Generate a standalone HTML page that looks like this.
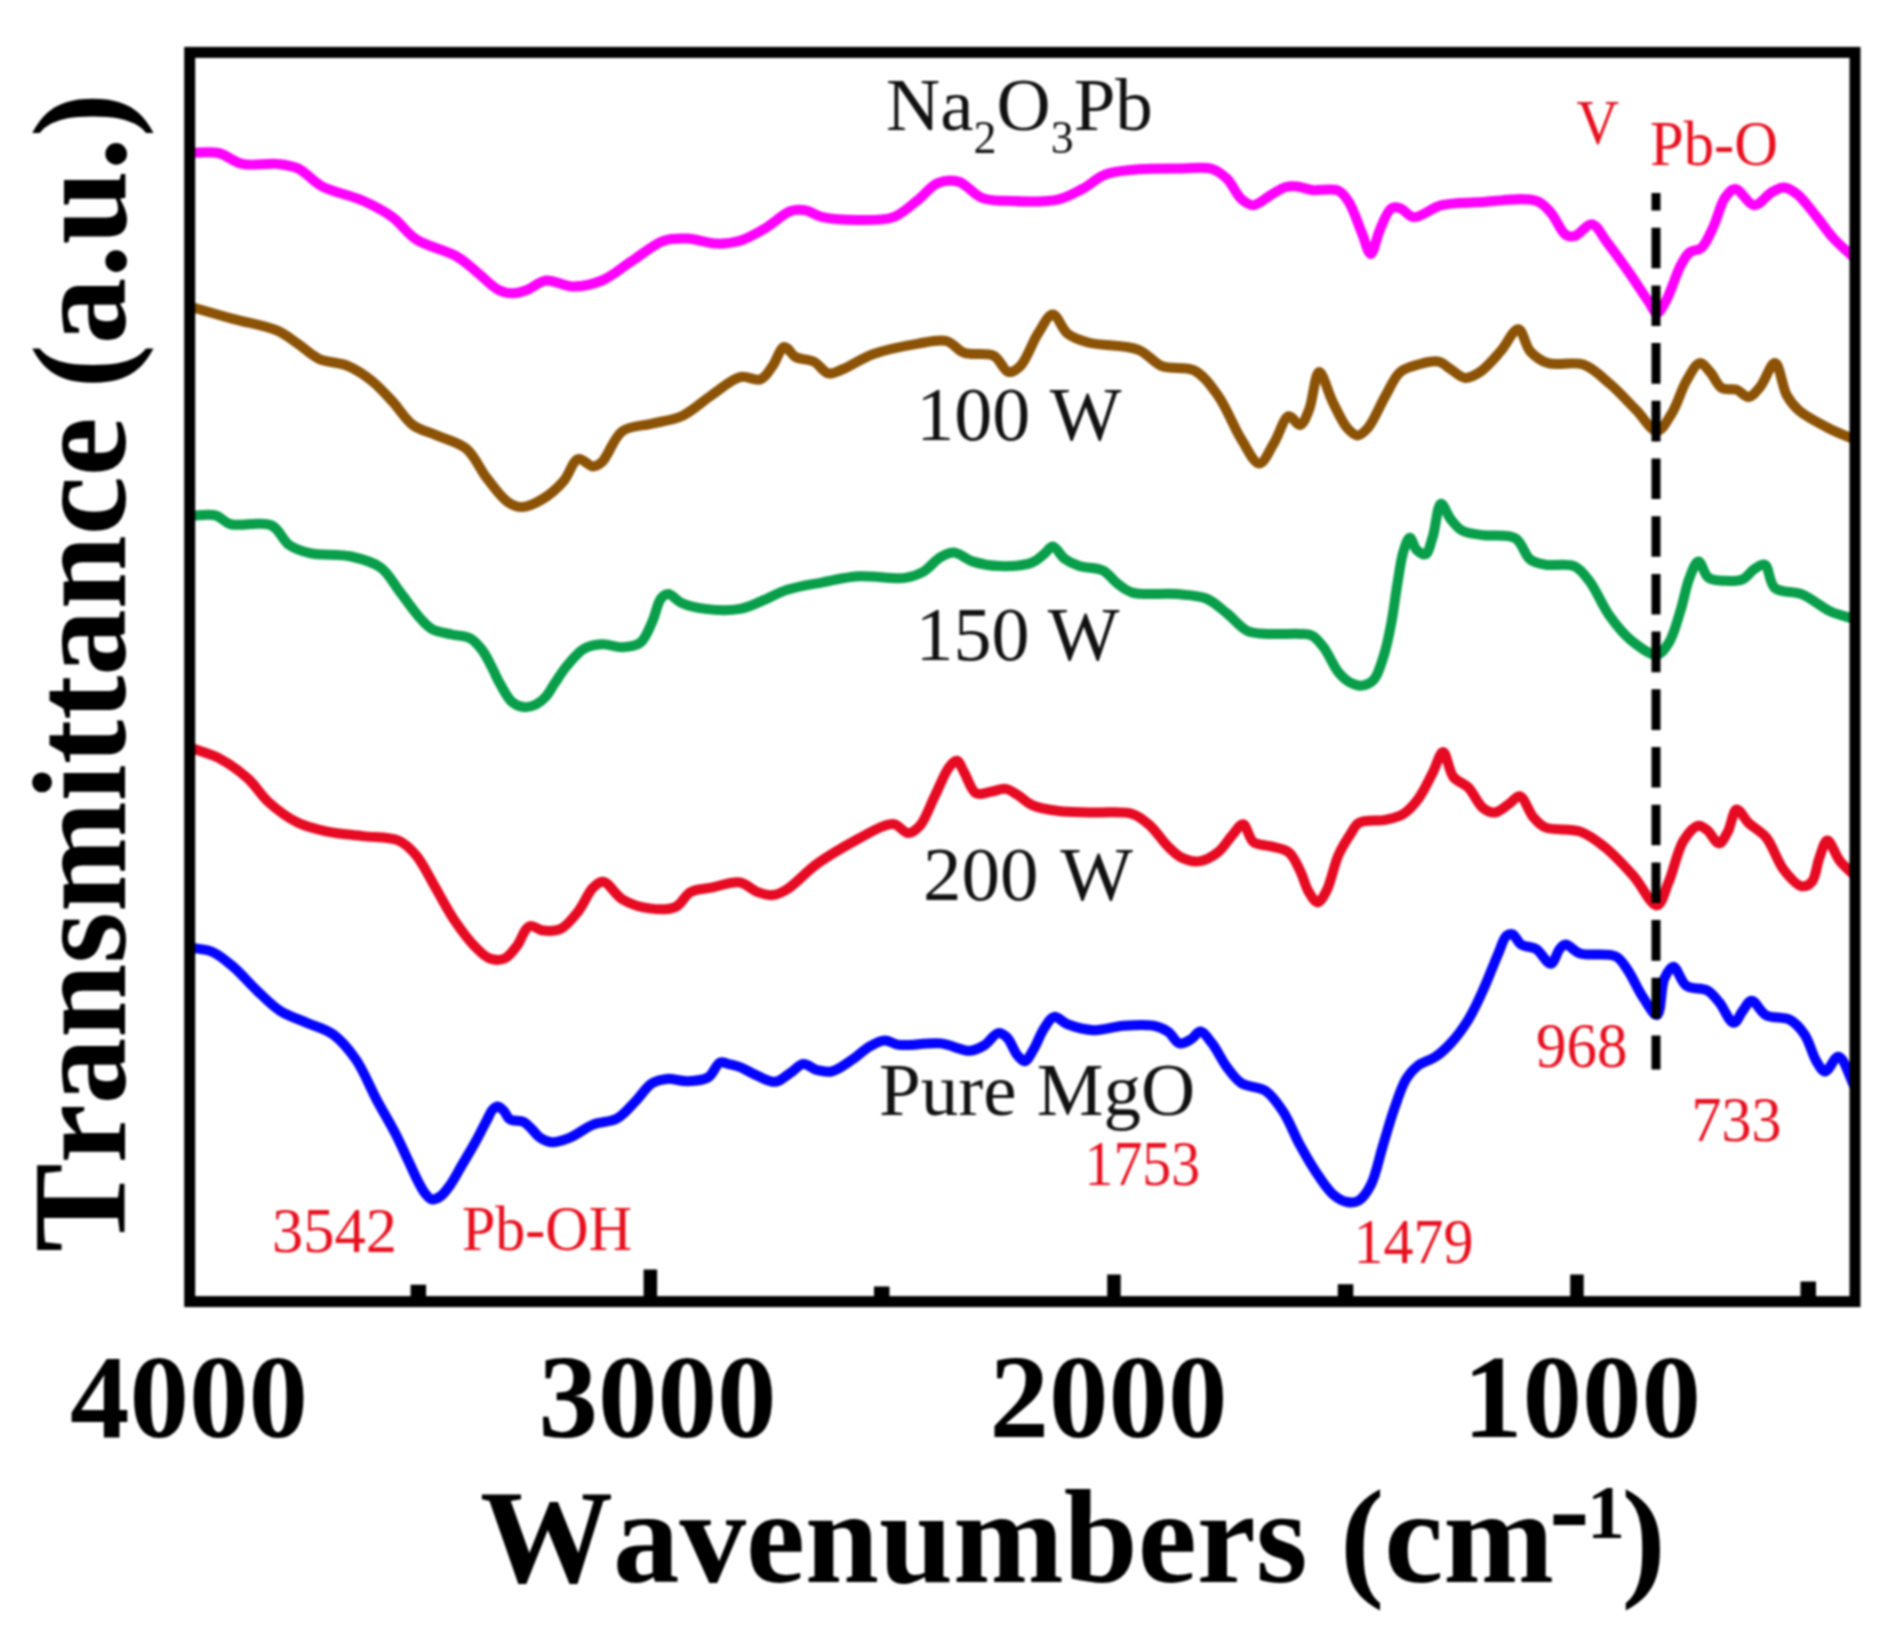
<!DOCTYPE html>
<html lang="en"><head><meta charset="utf-8"><title>FTIR spectra</title>
<style>
html,body{margin:0;padding:0;background:#fff;}
body{width:1899px;height:1637px;overflow:hidden;}
svg{display:block;filter:blur(0.9px);}
text{font-family:"Liberation Serif","Times New Roman",Times,serif;}
.ax{font-weight:bold;fill:#000;}
.lbl{fill:#111;}
.red{fill:#e8101f;}
</style></head><body>
<svg width="1899" height="1637" viewBox="0 0 1899 1637">
<rect x="0" y="0" width="1899" height="1637" fill="#ffffff"/>
<g id="curves">
<path d="M189.7 153.0C199.3 153.0 209.5 151.0 218.4 153.0C226.9 154.9 233.1 161.9 242.0 163.9C252.4 166.2 267.2 162.8 277.4 163.9C285.2 164.7 291.2 165.3 298.0 168.4C306.0 172.1 312.2 181.0 321.6 186.1C333.1 192.3 350.6 195.2 363.0 200.8C373.9 205.7 383.6 210.6 392.5 217.1C401.2 223.5 406.4 232.9 416.0 239.2C427.3 246.6 446.3 250.3 457.4 256.9C465.9 261.9 471.2 267.6 478.0 273.1C484.9 278.6 492.1 286.8 498.7 290.0C503.5 292.4 507.8 293.3 512.5 293.3C517.3 293.3 522.0 291.8 527.0 290.0C533.0 287.8 538.9 281.4 545.9 280.5C553.8 279.5 563.3 286.3 572.4 286.4C582.0 286.5 592.5 284.4 602.0 280.5C612.3 276.3 621.4 267.8 631.5 261.3C642.0 254.5 653.5 244.2 663.9 240.7C672.0 237.9 679.2 238.3 687.5 238.6C696.8 239.0 707.8 243.4 717.0 243.6C725.1 243.8 732.3 243.0 740.0 240.7C748.8 238.0 758.2 232.4 766.6 227.4C774.9 222.5 782.9 213.7 790.2 211.2C795.4 209.4 799.9 209.5 804.9 210.3C810.6 211.2 815.6 215.5 822.6 217.1C832.2 219.3 846.2 220.0 858.0 220.0C869.8 220.0 883.2 220.7 893.4 217.1C902.6 213.8 909.5 206.5 917.0 200.8C924.3 195.2 930.3 186.2 937.7 183.1C944.2 180.4 951.6 179.7 958.4 181.6C966.4 183.8 973.7 194.8 982.0 197.9C989.5 200.8 996.1 200.4 1005.6 200.8C1019.7 201.5 1044.8 202.4 1058.7 199.3C1068.4 197.1 1074.6 193.1 1082.3 189.0C1090.3 184.8 1097.0 177.6 1105.9 174.3C1115.5 170.7 1126.7 170.3 1138.4 169.3C1152.0 168.1 1169.4 168.4 1182.6 168.4C1193.4 168.4 1204.2 166.6 1212.1 169.0C1218.2 170.9 1222.3 174.3 1226.9 178.7C1232.3 183.9 1236.4 194.8 1241.6 199.3C1245.4 202.5 1249.1 205.3 1253.4 205.2C1258.7 205.0 1265.4 198.1 1271.1 194.9C1276.2 192.0 1281.2 188.3 1285.9 187.0C1289.7 185.9 1293.0 186.1 1297.0 186.5C1301.7 186.9 1306.3 189.3 1312.0 190.0C1319.4 190.9 1331.7 187.7 1338.0 190.5C1342.9 192.6 1345.2 196.5 1348.5 201.5C1353.5 209.1 1358.0 223.8 1362.0 233.3C1365.2 240.9 1367.9 254.0 1370.8 253.9C1373.8 253.8 1376.2 237.9 1379.7 230.3C1383.1 222.7 1386.9 210.9 1391.5 208.2C1394.2 206.6 1397.2 207.3 1400.3 208.2C1404.5 209.5 1408.2 216.6 1413.6 217.1C1421.1 217.8 1431.5 207.7 1441.6 205.2C1452.5 202.5 1463.7 203.0 1477.0 202.3C1494.2 201.4 1523.3 196.5 1536.0 200.8C1543.2 203.2 1546.2 207.6 1550.8 212.6C1556.2 218.5 1560.6 231.6 1565.6 234.8C1568.5 236.7 1571.1 236.9 1574.4 236.2C1579.5 235.1 1586.8 223.6 1592.1 224.4C1597.7 225.2 1601.5 235.2 1606.9 242.1C1614.0 251.2 1623.3 264.3 1630.5 274.6C1636.9 283.8 1643.2 294.1 1648.2 301.1C1651.6 305.9 1654.1 312.9 1657.0 312.9C1660.0 312.9 1662.9 306.3 1665.9 301.1C1670.7 292.7 1675.9 274.5 1680.6 265.7C1683.6 260.0 1685.8 255.5 1689.5 252.5C1692.8 249.9 1697.8 251.0 1701.3 248.0C1706.1 243.9 1709.4 235.0 1713.1 227.4C1717.4 218.6 1720.2 204.5 1724.9 197.9C1728.0 193.6 1731.2 189.0 1735.2 189.0C1740.6 189.0 1748.1 205.0 1754.4 205.2C1760.3 205.4 1766.6 195.0 1772.1 192.0C1776.3 189.7 1779.9 187.3 1783.9 187.5C1788.2 187.7 1792.6 190.6 1797.0 194.0C1803.3 198.9 1810.2 208.9 1816.4 216.5C1822.5 223.9 1827.7 232.0 1834.1 239.0C1840.5 246.0 1848.0 252.0 1855.0 258.5" fill="none" stroke="#ff00ff" stroke-width="10" stroke-linejoin="round" stroke-linecap="butt"/>
<path d="M189.7 306.5C204.1 310.6 218.5 314.9 233.0 318.9C247.7 323.0 265.7 325.6 277.4 330.7C285.9 334.5 291.2 339.3 298.0 343.9C305.0 348.6 310.8 355.0 318.7 358.7C327.3 362.7 339.2 362.3 348.2 366.1C356.8 369.8 364.5 375.0 371.8 380.8C379.3 386.8 385.7 394.2 392.5 401.5C399.5 409.0 405.2 419.4 413.0 425.1C420.1 430.3 428.4 431.7 436.7 435.4C446.0 439.5 458.0 441.9 466.2 448.7C474.9 455.9 479.8 469.1 486.9 478.2C493.6 486.7 500.6 497.1 507.5 501.8C512.4 505.1 517.0 507.2 522.3 507.1C528.6 507.0 536.3 502.9 542.9 498.9C550.2 494.5 557.7 487.8 563.6 481.1C569.4 474.5 572.6 460.5 578.3 459.0C582.8 457.8 588.8 466.4 593.1 466.4C596.4 466.4 598.8 464.8 602.0 462.0C608.1 456.6 613.6 437.3 622.6 431.0C630.7 425.3 642.3 426.1 652.1 423.6C661.9 421.1 672.1 420.5 681.6 416.2C691.9 411.5 701.3 402.2 711.1 395.6C720.7 389.2 730.8 379.3 740.0 377.1C747.2 375.4 755.2 381.4 760.7 379.3C765.8 377.3 768.8 371.1 772.5 366.1C776.7 360.5 780.0 347.6 784.3 346.9C787.9 346.4 791.3 354.8 796.0 357.2C801.0 359.8 808.4 358.9 813.8 361.6C819.3 364.3 823.3 372.4 828.5 373.4C833.2 374.3 837.6 371.2 843.3 369.0C851.6 365.7 861.7 358.3 872.8 354.3C885.8 349.6 903.7 346.1 917.0 343.9C927.8 342.1 938.2 338.9 946.5 341.0C953.5 342.8 957.2 350.3 964.2 352.8C972.5 355.8 986.1 351.9 993.7 355.7C1000.3 359.0 1003.5 371.1 1008.5 372.0C1012.4 372.7 1016.5 369.7 1020.3 366.1C1026.6 360.0 1032.0 342.8 1038.0 333.6C1042.9 326.1 1047.9 314.4 1052.8 314.4C1057.7 314.4 1061.5 328.9 1067.5 333.6C1073.3 338.1 1079.6 340.1 1088.2 342.5C1101.1 346.1 1125.2 344.6 1138.4 349.8C1148.3 353.7 1153.0 362.6 1162.0 366.1C1171.6 369.8 1185.1 365.7 1194.4 370.5C1203.9 375.4 1210.7 385.5 1218.0 395.6C1226.8 407.8 1233.8 427.6 1241.6 439.8C1247.6 449.2 1253.7 463.5 1259.3 463.4C1264.5 463.3 1269.4 450.3 1274.1 442.8C1279.3 434.6 1283.6 417.3 1288.8 416.2C1292.4 415.5 1296.8 425.6 1300.0 425.0C1303.6 424.4 1306.2 416.6 1308.9 410.3C1313.0 400.7 1315.0 372.3 1319.2 372.0C1323.0 371.7 1327.7 392.0 1332.5 401.5C1337.1 410.7 1342.1 422.2 1347.2 428.0C1350.5 431.7 1354.1 435.4 1357.5 435.4C1361.0 435.4 1364.4 431.9 1367.9 428.0C1373.8 421.4 1379.8 405.5 1385.6 395.6C1390.6 387.0 1394.2 377.2 1400.3 372.0C1405.4 367.7 1411.8 366.3 1418.0 364.6C1424.5 362.8 1432.9 360.4 1438.7 361.6C1443.4 362.6 1446.3 366.4 1450.5 369.0C1455.1 371.8 1460.2 377.5 1465.2 377.9C1470.0 378.3 1475.0 375.3 1480.0 372.0C1486.8 367.5 1494.2 358.5 1500.6 351.3C1506.9 344.2 1513.4 328.7 1518.4 329.2C1523.1 329.6 1525.0 345.5 1530.2 351.3C1535.0 356.6 1540.6 360.7 1547.9 363.1C1557.3 366.2 1572.8 361.0 1583.3 364.6C1593.4 368.1 1601.2 376.5 1609.8 383.8C1619.0 391.6 1628.1 402.0 1636.4 410.3C1643.7 417.6 1650.8 431.3 1657.0 431.0C1662.5 430.8 1667.3 420.5 1671.8 413.3C1677.4 404.4 1681.2 389.8 1686.5 380.8C1690.7 373.7 1695.4 363.6 1699.8 363.1C1703.3 362.7 1706.7 368.4 1710.1 372.0C1714.2 376.4 1717.1 385.4 1722.0 388.2C1726.2 390.6 1732.2 388.2 1736.7 389.7C1741.0 391.2 1744.7 397.3 1748.5 397.0C1752.6 396.7 1756.5 391.2 1760.3 386.7C1765.4 380.7 1770.7 362.7 1775.0 363.1C1779.8 363.6 1782.1 387.2 1786.9 395.6C1790.4 401.8 1793.3 405.6 1798.7 410.3C1805.9 416.6 1818.4 423.0 1828.2 428.0C1837.2 432.7 1846.1 435.9 1855.0 439.8" fill="none" stroke="#8c5306" stroke-width="10" stroke-linejoin="round" stroke-linecap="butt"/>
<path d="M189.7 515.9C198.3 515.7 208.2 513.4 215.4 515.3C221.3 516.8 223.7 522.2 230.2 524.1C240.2 527.0 261.3 520.7 271.5 525.4C279.7 529.2 282.5 540.3 289.2 545.0C295.4 549.3 301.6 551.2 309.8 553.1C321.0 555.7 338.7 553.7 351.1 556.5C361.9 558.9 372.4 561.6 380.6 567.5C388.8 573.4 393.6 583.8 400.1 592.1C406.8 600.6 414.0 611.5 420.1 618.1C424.4 622.8 427.2 626.4 432.1 629.1C437.6 632.1 445.5 632.9 452.0 634.5C458.2 636.0 465.1 635.6 470.2 638.3C475.1 640.9 478.7 645.5 482.2 650.1C486.0 655.1 489.0 661.7 492.0 667.5C494.9 673.1 497.0 678.6 500.2 684.1C503.7 690.1 507.5 698.3 512.2 702.1C515.8 705.1 520.2 706.7 524.2 707.1C528.1 707.4 532.4 706.2 536.0 704.5C539.7 702.7 543.1 699.7 546.0 696.5C549.2 693.0 551.2 688.6 554.2 684.1C557.9 678.7 561.7 672.1 566.5 666.4C571.7 660.3 577.8 652.3 584.3 648.7C589.8 645.6 595.8 644.6 602.0 644.3C608.6 644.0 616.0 647.5 622.6 647.2C628.8 646.9 635.5 646.4 640.3 642.8C645.7 638.7 648.7 629.4 652.1 622.1C655.6 614.6 657.3 603.0 661.0 598.5C663.2 595.9 665.5 594.0 668.3 594.1C672.1 594.2 676.3 600.6 681.6 603.0C688.1 605.9 696.5 607.8 705.2 608.9C715.6 610.2 730.0 610.6 740.0 608.9C747.9 607.5 753.4 604.4 760.7 601.5C769.0 598.2 777.5 592.8 787.2 589.7C798.0 586.2 810.8 584.5 822.6 582.3C834.4 580.1 845.3 577.2 858.0 576.3C872.6 575.3 893.4 579.6 905.2 577.9C912.6 576.8 917.3 575.1 922.9 572.0C929.1 568.5 934.8 560.5 940.6 557.2C945.1 554.6 949.1 552.3 953.9 552.5C959.8 552.8 966.0 559.4 973.1 561.6C981.1 564.1 990.4 565.8 999.7 566.1C1009.9 566.4 1024.2 565.5 1032.1 562.5C1037.3 560.5 1040.3 557.1 1043.9 554.3C1047.2 551.8 1049.7 546.4 1052.8 546.5C1056.5 546.7 1060.1 555.4 1064.6 558.7C1069.0 561.9 1073.7 564.2 1079.3 566.1C1086.1 568.4 1096.3 567.3 1102.9 570.5C1108.9 573.5 1112.6 580.0 1117.7 583.8C1122.4 587.3 1125.9 590.7 1132.4 592.6C1142.9 595.7 1163.5 592.9 1176.7 594.1C1187.6 595.1 1197.6 595.0 1206.2 598.5C1214.1 601.7 1220.1 608.0 1226.9 613.3C1233.9 618.8 1240.1 627.7 1247.5 631.0C1254.0 633.9 1260.5 633.4 1268.2 633.9C1277.6 634.6 1292.0 633.4 1300.0 633.9C1304.9 634.2 1308.1 633.6 1311.8 635.4C1316.1 637.5 1319.8 642.2 1323.6 647.2C1328.7 653.8 1333.2 666.1 1338.4 672.3C1342.2 676.9 1346.0 680.4 1350.2 682.6C1353.9 684.5 1358.1 686.0 1362.0 685.6C1366.0 685.2 1370.5 683.3 1373.8 679.7C1378.5 674.6 1381.2 663.6 1384.1 654.6C1387.3 644.6 1389.3 633.4 1391.5 622.1C1393.8 609.9 1395.3 596.0 1397.4 583.8C1399.3 572.7 1400.7 560.4 1403.3 552.0C1405.1 546.2 1407.5 537.8 1409.8 537.7C1412.0 537.6 1413.7 547.0 1416.6 549.8C1419.1 552.2 1423.0 555.2 1425.4 554.3C1428.8 553.1 1430.5 543.5 1432.8 536.6C1435.8 527.4 1437.3 504.3 1441.0 503.7C1443.7 503.3 1446.9 514.3 1450.5 518.9C1454.0 523.3 1457.3 528.0 1462.3 530.7C1467.9 533.7 1475.3 533.9 1483.0 535.1C1492.6 536.6 1507.4 533.6 1515.4 538.3C1522.5 542.5 1524.5 555.2 1530.2 559.5C1534.6 562.9 1539.1 563.4 1544.9 564.6C1552.9 566.2 1566.7 562.9 1574.4 566.3C1580.8 569.1 1584.3 574.5 1589.2 580.8C1596.1 589.7 1602.4 605.9 1609.8 616.2C1616.3 625.2 1622.5 633.4 1630.5 639.8C1638.3 646.1 1650.2 655.5 1657.0 654.6C1662.0 653.9 1665.4 648.2 1668.8 642.8C1673.8 635.0 1677.1 621.2 1680.6 610.3C1684.0 599.6 1685.9 586.7 1689.5 577.9C1692.1 571.4 1695.2 561.7 1698.4 561.6C1701.6 561.5 1704.0 574.7 1708.7 577.9C1713.0 580.8 1719.4 580.5 1724.9 580.8C1730.7 581.1 1737.6 581.4 1742.6 579.3C1747.3 577.3 1750.4 571.5 1754.4 569.0C1757.8 566.9 1761.7 563.4 1764.7 564.6C1769.2 566.4 1769.0 583.3 1775.0 588.2C1781.2 593.3 1792.8 590.6 1801.6 594.1C1811.5 598.0 1821.5 607.5 1831.1 611.8C1839.3 615.4 1847.0 616.7 1855.0 619.2" fill="none" stroke="#089e4a" stroke-width="10" stroke-linejoin="round" stroke-linecap="butt"/>
<path d="M189.7 747.5C199.3 751.0 209.1 753.1 218.4 757.9C228.5 763.2 239.3 770.8 247.9 778.5C255.9 785.7 260.5 794.9 268.5 802.1C277.1 809.8 287.7 817.8 298.0 822.8C307.5 827.4 317.1 829.4 327.5 831.6C338.7 834.0 351.1 834.6 362.9 836.1C374.7 837.6 389.1 836.5 398.4 840.5C405.9 843.7 410.7 848.9 416.1 855.2C422.7 862.9 427.7 874.4 433.8 884.7C440.4 896.0 447.1 909.5 454.4 920.2C461.0 929.9 468.4 939.9 475.1 946.7C480.1 951.8 484.5 956.7 489.8 958.5C494.5 960.1 500.3 960.3 504.6 958.5C509.2 956.6 512.6 951.4 516.4 946.7C521.0 941.0 524.5 927.9 529.7 926.1C533.6 924.7 538.1 929.9 542.9 930.5C548.3 931.1 555.1 931.5 560.6 929.0C567.1 926.0 573.0 918.0 578.3 911.3C583.9 904.3 588.0 892.6 593.1 887.7C596.4 884.5 599.6 881.4 603.4 881.8C609.0 882.4 615.1 895.1 622.6 899.5C630.3 904.1 640.2 907.2 649.2 908.4C657.9 909.6 668.6 910.1 675.7 906.9C682.0 904.1 684.6 895.3 690.5 892.1C696.4 888.9 703.6 889.2 711.1 887.7C719.9 886.0 731.7 881.2 740.0 882.5C746.8 883.6 751.9 890.0 757.7 892.1C762.7 893.9 767.6 895.5 772.5 895.1C777.5 894.6 781.8 892.5 787.2 889.2C795.7 884.1 805.7 872.1 816.7 864.1C829.0 855.2 845.6 845.8 858.0 839.0C867.7 833.6 877.7 827.8 884.6 825.7C888.7 824.4 891.4 823.5 894.9 824.3C899.2 825.3 903.9 833.0 908.2 833.1C912.2 833.1 916.4 829.7 920.0 825.7C925.6 819.5 929.8 806.0 934.7 796.2C939.6 786.4 944.8 772.5 949.5 766.7C952.0 763.6 954.6 760.4 956.9 760.8C959.7 761.3 961.6 768.1 964.3 772.6C967.8 778.5 970.9 790.6 976.1 793.3C980.2 795.4 985.9 792.5 990.8 791.8C995.7 791.1 1001.0 788.3 1005.6 788.9C1009.9 789.5 1013.3 792.4 1017.4 794.8C1022.1 797.6 1026.2 802.5 1032.1 805.1C1039.4 808.3 1049.1 809.7 1058.7 811.0C1069.6 812.4 1082.1 812.0 1094.1 812.5C1106.6 813.0 1122.4 810.7 1132.4 813.9C1139.9 816.3 1144.6 820.7 1150.2 825.7C1156.5 831.3 1162.0 840.7 1167.9 846.4C1172.8 851.2 1177.1 855.8 1182.6 858.2C1187.9 860.6 1194.5 862.0 1200.3 861.1C1206.4 860.2 1212.7 856.4 1218.0 852.3C1223.7 847.8 1228.2 839.6 1232.8 834.6C1236.4 830.6 1239.9 823.9 1243.1 824.3C1246.9 824.8 1248.5 838.3 1253.4 842.0C1258.0 845.5 1265.2 844.7 1271.1 846.4C1277.0 848.1 1284.1 848.5 1288.8 852.3C1293.9 856.3 1296.7 864.0 1300.0 870.5C1303.4 877.3 1305.4 886.4 1308.9 892.1C1311.5 896.4 1314.8 902.5 1317.7 902.4C1320.7 902.3 1323.8 895.9 1326.6 890.6C1331.0 882.2 1333.9 865.2 1338.4 855.2C1342.0 847.2 1346.4 840.4 1350.2 834.6C1353.2 830.0 1354.5 825.4 1359.0 822.8C1365.0 819.3 1377.7 821.5 1385.6 819.8C1392.2 818.3 1398.0 817.2 1403.3 813.9C1408.9 810.5 1413.5 805.2 1418.0 799.2C1423.5 791.9 1428.4 780.9 1432.8 772.6C1436.6 765.3 1439.8 751.9 1443.1 752.0C1446.7 752.1 1448.5 770.9 1453.4 777.0C1457.4 782.0 1463.6 782.9 1468.2 787.4C1473.6 792.8 1477.7 803.9 1483.0 808.0C1486.7 810.9 1490.7 812.8 1494.8 812.4C1499.5 812.0 1505.1 806.5 1509.5 803.6C1513.3 801.1 1516.5 795.6 1519.8 796.2C1524.4 797.1 1528.4 811.4 1533.1 816.9C1536.9 821.3 1539.4 824.7 1544.9 827.2C1553.2 830.9 1570.0 827.9 1580.3 831.6C1589.4 834.8 1596.0 840.1 1603.9 846.4C1613.6 854.1 1624.4 865.8 1633.4 875.9C1642.0 885.5 1650.9 906.1 1657.0 905.4C1662.1 904.9 1664.9 890.9 1668.8 881.8C1673.8 870.1 1677.4 850.3 1683.6 840.5C1687.9 833.7 1693.9 826.4 1698.4 825.7C1701.5 825.2 1704.3 827.9 1707.2 830.2C1711.1 833.2 1715.4 843.5 1719.0 843.4C1722.3 843.3 1725.2 836.4 1727.9 831.6C1731.3 825.6 1732.9 810.2 1736.7 809.5C1740.0 808.9 1744.0 818.4 1748.5 822.8C1753.6 827.8 1760.9 831.0 1766.2 837.5C1773.0 845.8 1777.2 861.5 1783.9 870.0C1789.3 876.9 1796.2 885.3 1801.6 886.2C1805.3 886.8 1809.2 884.8 1811.9 881.8C1815.9 877.3 1816.5 865.4 1819.3 858.2C1821.7 851.8 1824.1 840.7 1827.3 840.5C1830.9 840.3 1835.2 855.1 1840.0 861.1C1844.5 866.7 1850.0 871.0 1855.0 875.9" fill="none" stroke="#e60a23" stroke-width="10" stroke-linejoin="round" stroke-linecap="butt"/>
<path d="M189.7 947.5C197.3 949.0 205.4 948.9 212.5 952.0C219.9 955.2 226.2 960.9 233.1 966.7C241.0 973.4 248.7 982.8 256.7 990.3C264.4 997.6 271.7 1005.5 280.3 1011.0C288.5 1016.3 298.0 1018.9 306.9 1022.8C315.7 1026.7 325.5 1028.8 333.4 1034.6C341.9 1040.8 349.1 1049.7 355.9 1059.5C363.8 1070.9 369.9 1087.1 376.7 1099.8C382.9 1111.4 389.5 1122.2 395.0 1132.8C400.0 1142.5 404.3 1152.2 408.4 1160.9C411.9 1168.3 415.0 1175.8 418.2 1181.7C420.7 1186.4 422.9 1190.8 425.5 1193.9C427.5 1196.3 429.2 1198.8 431.6 1199.3C434.1 1199.8 437.5 1198.3 440.2 1196.5C443.7 1194.2 446.8 1189.8 450.0 1185.3C454.1 1179.6 458.1 1171.5 462.2 1164.6C466.3 1157.7 470.4 1151.0 474.4 1143.8C478.6 1136.3 483.2 1126.9 486.6 1120.6C489.0 1116.2 490.4 1112.0 492.7 1109.6C494.2 1108.0 495.9 1106.5 497.6 1106.5C499.5 1106.5 501.8 1108.9 503.7 1110.8C505.9 1113.0 506.9 1117.5 509.8 1119.4C513.1 1121.5 519.5 1120.0 523.3 1121.8C526.7 1123.4 529.1 1126.5 531.8 1129.1C534.6 1131.8 536.7 1135.5 540.0 1137.7C543.4 1140.0 547.4 1142.0 551.8 1142.3C557.1 1142.6 563.3 1140.3 569.5 1137.9C577.0 1134.9 585.0 1127.8 593.1 1124.6C600.8 1121.5 609.8 1122.4 616.7 1118.7C623.6 1115.0 628.6 1108.3 634.4 1102.5C640.4 1096.5 645.9 1087.2 652.1 1083.3C656.9 1080.3 661.5 1079.4 666.9 1078.9C673.1 1078.3 680.6 1081.4 687.5 1081.2C694.4 1081.0 702.7 1080.7 708.2 1077.4C713.4 1074.3 715.9 1064.2 720.0 1062.6C722.8 1061.5 725.7 1063.4 728.8 1064.1C732.3 1064.9 735.9 1065.6 740.0 1067.1C745.3 1069.1 751.7 1073.4 757.7 1075.9C763.5 1078.3 769.9 1082.4 775.4 1081.8C780.7 1081.2 785.4 1076.0 790.2 1073.0C794.8 1070.1 798.9 1064.5 803.4 1064.1C807.7 1063.7 812.0 1068.8 816.7 1070.0C821.4 1071.2 826.3 1072.6 831.5 1071.5C838.0 1070.1 845.6 1064.0 852.1 1059.7C858.4 1055.6 863.9 1049.7 869.8 1046.4C874.8 1043.6 879.6 1040.7 884.6 1040.5C889.5 1040.3 893.1 1044.1 899.3 1044.9C909.5 1046.2 928.1 1042.1 940.6 1043.4C951.4 1044.5 962.1 1051.4 970.2 1050.8C976.0 1050.4 980.3 1047.7 984.9 1044.9C989.7 1041.9 994.0 1033.6 998.2 1033.1C1001.3 1032.7 1004.3 1035.0 1007.0 1037.5C1010.9 1041.2 1013.8 1051.2 1017.4 1055.3C1019.8 1058.1 1022.3 1061.5 1024.7 1061.2C1027.7 1060.8 1030.7 1054.0 1033.6 1049.4C1037.2 1043.6 1040.0 1034.4 1043.9 1028.7C1047.1 1024.0 1050.3 1017.6 1054.3 1016.9C1058.2 1016.2 1062.2 1022.3 1067.5 1024.3C1074.7 1027.0 1085.0 1029.9 1094.1 1030.2C1103.7 1030.5 1113.7 1026.4 1123.6 1025.7C1133.4 1025.0 1145.1 1024.2 1153.1 1025.7C1159.0 1026.8 1163.5 1028.7 1167.9 1031.6C1172.4 1034.6 1175.4 1042.5 1179.7 1043.4C1183.4 1044.2 1188.0 1041.0 1191.5 1039.0C1194.8 1037.1 1197.2 1031.5 1200.3 1031.6C1204.0 1031.8 1208.2 1038.5 1212.1 1043.4C1217.1 1049.7 1221.6 1060.2 1226.9 1067.1C1231.5 1073.2 1235.5 1079.4 1241.6 1083.3C1248.1 1087.5 1258.4 1086.2 1265.2 1090.7C1272.3 1095.4 1277.5 1103.2 1282.9 1111.3C1289.3 1120.9 1294.3 1134.8 1300.0 1145.2C1305.0 1154.3 1309.4 1162.2 1314.8 1170.3C1320.2 1178.4 1326.3 1188.5 1332.5 1193.9C1337.2 1198.0 1342.4 1201.1 1347.2 1202.0C1351.2 1202.8 1355.4 1202.5 1359.0 1200.5C1363.5 1197.9 1367.4 1191.8 1370.8 1185.1C1375.8 1175.5 1378.7 1159.5 1382.6 1146.7C1386.5 1133.9 1390.2 1120.3 1394.4 1108.4C1398.1 1097.8 1401.5 1086.5 1406.2 1078.9C1409.7 1073.2 1413.3 1069.2 1418.0 1065.6C1423.0 1061.8 1430.3 1060.4 1435.7 1056.7C1441.1 1053.0 1445.6 1048.8 1450.5 1043.5C1456.5 1037.0 1462.9 1028.4 1468.2 1019.8C1473.8 1010.7 1478.3 1000.7 1483.0 990.3C1488.1 979.1 1493.3 964.9 1497.7 954.9C1501.0 947.5 1503.2 938.5 1506.6 935.7C1508.4 934.2 1510.5 933.7 1512.5 934.3C1515.4 935.3 1517.6 942.2 1521.3 944.6C1525.3 947.2 1531.5 946.2 1536.1 949.0C1541.4 952.2 1546.8 964.3 1550.8 963.8C1554.5 963.4 1556.7 952.3 1559.7 949.0C1561.7 946.8 1563.1 944.7 1565.6 944.6C1569.4 944.4 1574.0 951.5 1580.3 953.5C1589.3 956.4 1607.6 952.3 1615.7 956.4C1621.5 959.3 1623.6 964.3 1627.5 969.7C1632.5 976.8 1637.1 988.3 1642.3 996.2C1647.0 1003.2 1653.4 1015.8 1657.0 1015.0C1661.5 1013.9 1660.6 987.0 1664.4 978.5C1666.8 973.1 1670.1 966.6 1673.3 966.7C1677.3 966.8 1680.6 982.0 1686.5 985.9C1692.1 989.6 1701.6 987.3 1707.2 990.3C1712.2 993.0 1715.0 997.4 1719.0 1002.1C1723.9 1007.9 1729.5 1022.8 1733.8 1022.8C1737.1 1022.8 1739.6 1014.7 1742.6 1011.0C1745.5 1007.4 1748.1 1000.8 1751.5 1000.7C1755.7 1000.5 1760.1 1012.2 1766.2 1015.4C1772.7 1018.8 1783.3 1016.4 1789.8 1019.8C1795.9 1023.0 1800.4 1028.5 1804.6 1034.6C1809.6 1041.8 1812.2 1054.6 1816.4 1061.2C1819.2 1065.7 1821.9 1071.5 1825.2 1071.5C1829.2 1071.5 1834.2 1056.2 1838.5 1056.7C1844.2 1057.4 1849.5 1077.4 1855.0 1087.7" fill="none" stroke="#0505ff" stroke-width="10" stroke-linejoin="round" stroke-linecap="butt"/>
</g>
<line x1="1656.0" y1="193" x2="1656.0" y2="1069.5" stroke="#000" stroke-width="9" stroke-dasharray="40.6 17.1" stroke-dashoffset="23.0"/>
<g id="ticks" fill="#000">
<rect x="643.6" y="1269.5" width="13.5" height="30.5"/>
<rect x="1107.2" y="1274.5" width="13.5" height="25.5"/>
<rect x="1570.2" y="1274.5" width="13.5" height="25.5"/>
<rect x="410.6" y="1284.7" width="15.5" height="15.3"/>
<rect x="874.0" y="1286.5" width="15.5" height="13.5"/>
<rect x="1337.8" y="1284.2" width="15.5" height="15.8"/>
<rect x="1800.5" y="1281.5" width="15.5" height="18.5"/>
</g>
<rect x="189.7" y="52.4" width="1665.3" height="1249.1999999999998" fill="none" stroke="#000" stroke-width="11"/>
<g class="ax" font-size="119" text-anchor="middle">
<text x="189.1" y="1436.8">4000</text>
<text x="657.5" y="1436.8">3000</text>
<text x="1108.5" y="1436.8">2000</text>
<text x="1582" y="1436.8">1000</text>
</g>
<g class="ax" font-size="133" style="font-kerning:none">
<text x="480" y="1582">Wavenumbers</text>
<text x="1340" y="1582">(cm</text>
<text x="1549.1" y="1548.5" font-size="122">-</text>
<text x="1587" y="1538" font-size="76">1</text>
<text x="1621.5" y="1582">)</text>
</g>
<g class="ax" font-size="133" style="font-kerning:none" transform="translate(124.5 0) rotate(-90)">
<text x="-1252" y="0">Transmittance</text>
<text x="-388.5" y="0">(a.u.)</text>
</g>
<g class="lbl" font-size="75">
<text x="886" y="129.5" font-size="75">Na<tspan font-size="46" dy="23">2</tspan><tspan dy="-23">O</tspan><tspan font-size="46" dy="23">3</tspan><tspan dy="-23">Pb</tspan></text>
<text x="916.2" y="439.6" font-size="76" style="word-spacing:2px">100 W</text>
<text x="915.5" y="659.5" font-size="76" style="word-spacing:0.5px">150 W</text>
<text x="923.1" y="900.3" font-size="77" style="word-spacing:3.8px">200 W</text>
<text x="879" y="1115" style="word-spacing:1.5px">Pure MgO</text>
</g>
<g class="red" font-size="62.5">
<text transform="translate(1576.5 143.5) scale(0.94 1)">V</text>
<text transform="translate(1650 164.5) scale(0.97 1)">Pb-O</text>
<text transform="translate(272 1252) scale(1.0 1)">3542</text>
<text transform="translate(462 1250) scale(0.96 1)">Pb-OH</text>
<text transform="translate(1084.5 1185.2) scale(0.925 1)">1753</text>
<text transform="translate(1353.5 1263.2) scale(0.96 1)">1479</text>
<text transform="translate(1536 1067.2) scale(0.975 1)">968</text>
<text transform="translate(1691.5 1140.6) scale(0.96 1)">733</text>
</g>
</svg></body></html>
